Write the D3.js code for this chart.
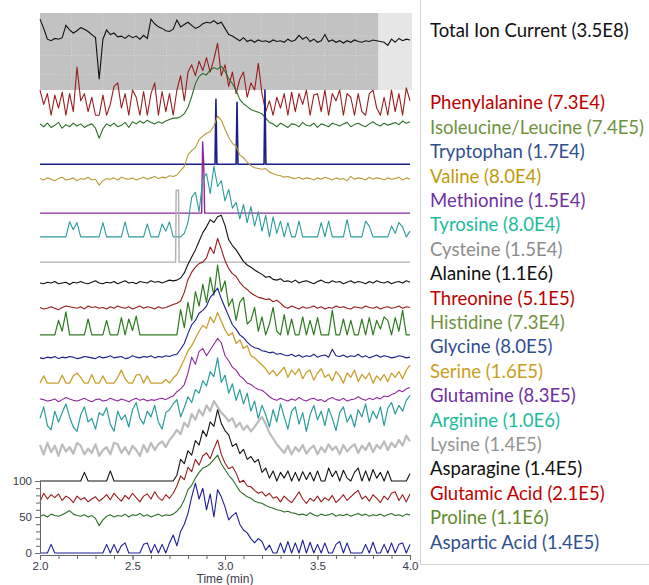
<!DOCTYPE html>
<html><head><meta charset="utf-8">
<script src="https://cdn.jsdelivr.net/npm/d3@7"></script>
<style>body{margin:0;background:#fff;} svg{display:block;}</style>
</head><body><svg id="c" width="649" height="585"></svg>
<script>
// ---------------- DATA ----------------
const timeDomain = [2.0, 4.0];
const xTicks = [2.0, 2.5, 3.0, 3.5, 4.0];
const yTicks = [0, 50, 100];
const ticWindowEnd = 3.83;

const ticLabel = "Total Ion Current (3.5E8)";
const ticValues = [92,80,66,64,67,66,68,84,78,74, 77,81,79,76,72,68,14,66,78,72, 74,69,70,67,71,68,70,66,71,67,
  92,86,82,80,77,76,79,91,82,85, 88,84,80,82,86,88,87,90,86,88, 80,72,70,67,64,68,63,65,62,65,
  63,64,62,65,63,64,62,66,63,65, 71,66,69,63,66,62,64,72,63,65, 62,64,61,64,62,65,63,62,64,63,
  65,64,63,62,58,66,62,67,64,66, 65];

const names = ["Phenylalanine","Isoleucine/Leucine","Tryptophan","Valine","Methionine","Tyrosine","Cysteine",
  "Alanine","Threonine","Histidine","Glycine","Serine","Glutamine","Arginine","Lysine","Asparagine",
  "Glutamic Acid","Proline","Aspartic Acid"];
const maxIntensity = ["7.3E4","7.4E5","1.7E4","8.0E4","1.5E4","8.0E4","1.5E4","1.1E6","5.1E5","7.3E4",
  "8.0E5","1.6E5","8.3E5","1.0E6","1.4E5","1.4E5","2.1E5","1.1E6","1.4E5"];
// stack offsets of each trace (relative intensity units)
const offsets = [608,594,540,519,472,439,404,375,340,303,271,236,212,167,135,100,67,48,0];

const phenylalanine = [35,15,30,0,28,10,32,0,30,5, 67,20,30,5,25,0,0,28,0,15, 40,45,10,30,0,35,25,0,33,0,
  30,45,0,33,5,30,0,35,55,20, 60,70,55,75,62,80,60,78,100,55, 70,40,60,30,50,60,25,45,35,72,
  30,5,20,0,25,10,30,0,32,5, 30,15,35,0,28,30,5,35,0,30, 20,35,0,30,25,0,30,5,0,30,
  35,10,0,25,0,35,5,30,0,38, 20];
const isoleucine = [2,-2,3,-3,0,4,-4,1,-2,3, -1,2,-3,0,2,-4,-18,-5,2,-1, 3,-2,0,4,-3,5,2,6,3,7, 4,2,5,3,6,8,10,
  10,12,16,25,40,58,68,72,70,77, 80,78,82,75,65,58,48,36,30,26, 22,20,18,16,10,4,
  2,-2,3,0,-3,2,1,-2,4,0, -1,3,-3,2,0,-2,3,1,-1,2, 4,-2,1,3,0,-2,2,5,1,-1, 3,0,2,4,1,6,3,5];
const tryptophan = [[2.0,0],[2.946,0],[2.951,90],[2.956,0],[3.060,0],[3.065,86],[3.070,0],[3.211,0],[3.216,103],[3.221,0],[4.0,0]];
const valine = [1,-1,2,0,-2,1,3,-1,0,2,-2,1,0,3,-1,0, -8,
  -2,1,0,2,-1,3,1,0,2,-1,1,3,0,2,4,1,3,2,5,4,
  6,12,18,34,40,44,55,60,64,66, 74,88,82,70,58,50,46,34,30,24, 19,16,15,14,15,10,8,6,5,3,
  4,2,1,3,0,2,1,-1,2,0, 3,1,-1,2,0,1,-2,4,0,2, 1,-1,3,0,2,1,-1,2,0,1, 3,-1,2,0];
const methionine = [[2.0,0],[2.874,0],[2.879,99],[2.885,70],[2.890,0],[4.0,0]];
const tyrosine = [0,0,0,0,0,0,0,0,21,10, 20,0,0,0,0,0,0,20,0,0, 0,0,0,21,0,0,0,0,0,18, 0,0,0,18,8,21,0,0,0,5,
  20,55,62,35,80,88,60,98,70,78, 50,66,40,48,25,45,20,42,15,35, 8,30,0,28,5,22,0,20,0,0,
  22,0,0,0,0,0,20,0,22,0, 0,0,0,24,0,0,0,0,22,15, 0,0,0,0,0,15,5,20,14,0, 8];
const cysteine = [[2.0,0],[2.733,0],[2.736,100],[2.749,100],[2.752,0],[4.0,0]];
const alanine = [0,-1,1,0,2,-1,0,1,-2,1, 0,2,0,-1,1,3,0,-1,1,0, 2,-1,1,3,0,1,-1,2,1,0, 3,1,2,0,2,4,3,
  4,7,14,26,36,46,58,70,78,88, 84,92,94,80,60,52,46,38,30,25, 22,18,15,12,8,9,5,4,
  6,2,3,1,4,0,2,3,1,-1, 2,4,1,0,3,1,2,-1,1,3, 0,2,1,-1,2,0,3,1,0,2, -1,1,2,0,3,1];
const threonine = [1,-1,0,2,0,-2,1,3,2,1, 0,2,-1,3,1,2,0,1,-1,2, 0,3,1,0,2,-1,1,3,0,2, 1,-1,2,0,1,3,5,
  7,10,22,40,50,57,62,64,70,85, 76,97,82,66,55,48,44,36,30,26, 21,18,15,14,12,13,9,11,7,
  2,0,3,1,-1,2,0,1,3,0, 2,-1,1,0,3,1,2,0,-1,2, 1,0,3,1,0,2,-1,1,2,0, 1,3,0,2,1];
const histidine = [0,0,0,0,0,20,5,32,0,0, 0,0,0,22,0,0,0,0,20,0, 0,0,24,0,22,6,26,0,0,0, 0,0,0,0,0,0,0,0,35,10,
  45,20,60,40,70,45,80,55,97,60, 75,40,50,20,45,52,15,20,38,5, 25,0,15,38,5,0,28,0,22,0,
  0,25,0,20,0,24,0,0,0,34, 0,0,22,0,20,0,0,22,0,24, 0,20,8,25,20,0,24,5,34,0, 0];
const glycine = [0,-1,1,0,2,-1,1,0,2,1, -1,0,2,1,0,-1,2,0,1,3, 0,1,2,-1,0,3,1,0,2,1, 3,0,2,1,3,2,4,
  5,12,20,34,46,52,62,66,72,84, 90,97,82,70,58,46,40,32,28,22, 17,14,13,10,9,7,8,5,6,4,
  3,5,2,4,1,3,2,5,1,3, 4,1,12,3,2,4,1,3,2,5, 1,3,0,2,4,1,3,2,0,1, 3,2,0,1];
const serine = [0,10,0,0,0,0,11,0,0,10, 14,8,0,0,12,0,0,10,0,0, 0,8,18,6,0,0,11,12,0,10, 0,0,0,0,5,0,7,12,22,33,
  45,52,62,72,80,76,92,84,98,86, 74,66,70,55,60,48,52,38,35,30, 25,20,12,18,10,16,22,8,18,12,
  20,6,15,18,4,14,20,8,12,3, 16,10,0,14,8,18,2,12,6,14, 0,10,4,12,2,14,8,16,6,18, 25];
const glutamine = [2,1,-1,0,2,-2,1,4,2,0, -1,1,3,0,-2,1,2,-1,0,3, 1,-1,2,0,-2,1,3,0,2,-1, 1,0,2,3,1,4,6,
  12,16,22,38,60,50,68,72,62,70, 78,86,80,62,55,46,42,34,30,24, 22,18,15,14,10,5,
  2,0,3,1,-1,2,0,4,1,-1, 2,3,0,1,-2,2,4,1,0,3, -1,1,2,5,2,0,3,1,4,2, 6,5,8,10,14,12,16,18];
const arginine = [20,36,10,4,30,15,28,40,22,8, 2,25,36,15,20,5,28,24,35,12, 2,30,18,25,8,32,42,20,12,30,
  22,38,15,5,28,32,40,46,22,35, 50,42,60,55,72,65,85,78,104,70, 80,55,68,45,60,40,55,30,44,20,
  38,25,8,32,15,40,22,5,30,36, 12,28,2,25,38,18,30,10,34,20, 3,28,36,15,25,8,32,22,40,14,
  30,20,36,10,34,42,26,38,30,45, 52];
const lysine = [15,2,18,5,14,0,16,6,12,3, 18,14,2,10,4,16,0,8,12,2, 18,16,4,12,2,14,8,0,15,5,
  18,8,16,20,12,22,28,36,30,46, 40,58,50,64,56,70,62,76,68,60, 55,48,52,40,46,36,42,34,40,48,
  54,44,32,24,16,10,4,14,2,12, 6,15,3,10,14,2,12,5,16,8, 13,2,15,6,12,16,4,14,8,18,
  5,15,10,20,8,18,12,22,14,28, 20];
const asparagine = [0,0,0,0,0,0,0,0,0,0, 0,0,12,0,0,0,0,0,0,14, 0,0,0,0,0,0,0,0,0,0, 0,0,0,0,0,0,0,8,30,24,
  42,36,56,50,70,62,82,76,99,80, 70,64,48,52,38,44,30,34,26,30, 12,18,4,14,0,12,4,14,0,12,
  0,13,2,12,0,14,0,0,18,6, 14,0,15,4,0,12,18,0,14,0, 16,4,12,0,14,0,0,0,0,0, 10];
const glutamicAcid = [4,16,8,14,10,15,6,12,9,3, 12,7,10,4,8,11,5,9,14,7, 16,10,5,13,8,16,10,4,12,15,
  8,18,10,6,14,9,16,26,40,35, 52,46,63,55,68,72,64,78,90,70, 58,50,53,44,31,34,26,25,20,16,
  18,12,16,9,11,4,12,7,3,10, 18,8,2,9,5,12,4,10,6,13, 3,8,14,6,11,16,20,8,12,5,
  14,9,3,12,7,16,18,6,14,4, 15];
const proline = [3,5,2,6,4,3,5,8,11,6, 4,3,5,2,4,0,-10,-2,3,5, 2,4,3,6,2,5,4,7,3,5, 2,4,6,3,5,4,6,
  10,16,26,40,46,56,64,70,72,76, 82,88,76,68,60,54,46,38,34,30, 28,24,22,21,18,16,14,12,11,9, 10,8,
  7,5,6,4,8,5,3,6,4,5, 7,3,5,4,6,3,5,7,4,6, 3,5,4,6,3,5,7,4,5,3, 6,5];
const asparticAcid = [0,0,0,12,0,0,0,0,0,0, 0,0,0,0,0,0,0,0,12,0, 12,0,10,14,0,0,0,0,12,14, 0,12,0,12,0,14,25,10,30,40,
  55,78,97,75,90,60,82,50,88,78, 64,46,52,56,40,32,28,20,14,20, 16,4,11,0,0,14,0,16,0,14,
  0,18,0,15,0,12,0,14,0,0, 12,16,0,14,0,0,0,0,12,0, 15,0,0,12,0,14,0,12,14,0, 12];

const traceData = [phenylalanine, isoleucine, tryptophan, valine, methionine, tyrosine, cysteine,
  alanine, threonine, histidine, glycine, serine, glutamine, arginine, lysine, asparagine,
  glutamicAcid, proline, asparticAcid];

// ---------------- STYLE ----------------
const lineColors = ["#9a1c1c","#2f6f2a","#1c1f86","#b99a3a","#8c2a9c","#2a9c9a","#b0b0b0",
  "#111111","#9a1c1c","#2f7a22","#1c1f86","#c9a032","#8c2a9c","#2a9c9a","#bcbcbc","#111111",
  "#9a1c1c","#2f6f2a","#1c1f96"];
const labelColors = ["#c00000","#6f9140","#2f4f8f","#c19a0a","#7030a0","#1abc9c","#8c8c8c",
  "#111111","#c00000","#6f9140","#2f4f8f","#c8a020","#7030a0","#1abc9c","#959595","#111111",
  "#c00000","#5f8a2a","#2f4f8f"];
const lineWidths = [1.1,1.1,1.6,1.1,1.4,1.1,1.4,1.1,1.1,1.2,1.1,1.3,1.1,1.2,2.2,1.1,1.1,1.1,1.1];

const svg = d3.select("#c");
const x = d3.scaleLinear().domain(timeDomain).range([40, 410]);
const y = d3.scaleLinear().domain([0, 100]).range([553, 481]);
const ticY = d3.scaleLinear().domain([0, 100]).range([90, 13]);

// TIC panel background
svg.append("rect").attr("x", x(timeDomain[0])).attr("y", ticY(100))
  .attr("width", x(ticWindowEnd) - x(timeDomain[0])).attr("height", ticY(0) - ticY(100))
  .attr("fill", "#c2c2c2");
svg.append("rect").attr("x", x(ticWindowEnd)).attr("y", ticY(100))
  .attr("width", x(timeDomain[1]) + 2 - x(ticWindowEnd)).attr("height", ticY(0) - ticY(100))
  .attr("fill", "#e6e6e6");
const grid = svg.append("g").attr("stroke", "#ffffff").attr("stroke-opacity", 0.45)
  .attr("stroke-dasharray", "1,2").attr("stroke-width", 0.8);
[20, 45, 70].forEach(v => grid.append("line").attr("x1", x(2)).attr("x2", x(ticWindowEnd))
  .attr("y1", ticY(v)).attr("y2", ticY(v)));
d3.range(2.17, ticWindowEnd, 0.171).forEach(t => grid.append("line").attr("x1", x(t)).attr("x2", x(t))
  .attr("y1", ticY(100)).attr("y2", ticY(0)));

// TIC line
const ticIdx = d3.scaleLinear().domain([0, ticValues.length - 1]).range(timeDomain);
svg.append("path").datum(ticValues)
  .attr("d", d3.line().x((d, i) => x(ticIdx(i))).y(d => ticY(d)))
  .attr("fill", "none").attr("stroke", "#111").attr("stroke-width", 1.1);

// traces
traceData.forEach((data, k) => {
  let line;
  if (Array.isArray(data[0])) {
    line = d3.line().x(d => x(d[0])).y(d => y(offsets[k] + d[1]));
  } else {
    const idx = d3.scaleLinear().domain([0, data.length - 1]).range(timeDomain);
    line = d3.line().x((d, i) => x(idx(i))).y(d => y(offsets[k] + d));
  }
  svg.append("path").datum(data).attr("d", line)
    .attr("fill", "none").attr("stroke", lineColors[k]).attr("stroke-width", lineWidths[k])
    .attr("stroke-linejoin", "round");
});

// axes
const axisFont = "'Liberation Sans', Arial, sans-serif";
const yAxisMinor = svg.append("g").attr("transform", `translate(${x(2)},0)`)
  .call(d3.axisLeft(y).tickValues(d3.range(0, 101, 10)).tickSize(4).tickFormat("").tickSizeOuter(0));
const yAxis = svg.append("g").attr("transform", `translate(${x(2)},0)`)
  .call(d3.axisLeft(y).tickValues(yTicks).tickSize(5).tickPadding(3).tickSizeOuter(0));
const xAxisMinor = svg.append("g").attr("transform", `translate(0,555)`)
  .call(d3.axisBottom(x).tickValues(d3.range(2, 4.001, 0.1)).tickSize(4).tickFormat("").tickSizeOuter(0));
const xAxis = svg.append("g").attr("transform", `translate(0,555)`)
  .call(d3.axisBottom(x).tickValues(xTicks).tickSize(5).tickPadding(2).tickFormat(d3.format(".1f")).tickSizeOuter(0));
[yAxisMinor, yAxis, xAxisMinor, xAxis].forEach(g => {
  g.selectAll("path,line").attr("stroke", "#666");
  g.selectAll("text").attr("fill", "#3a3a4a").style("font-family", axisFont).style("font-size", "11.5px");
});
svg.append("text").attr("x", (x(2) + x(4)) / 2).attr("y", 583).attr("text-anchor", "middle")
  .attr("fill", "#3a3a4a").style("font-family", axisFont).style("font-size", "12px").text("Time (min)");

// legend panel
svg.append("line").attr("x1", 420.5).attr("x2", 420.5).attr("y1", 0).attr("y2", 564).attr("stroke", "#d4d4d4");
svg.append("line").attr("x1", 420).attr("x2", 649).attr("y1", 564.5).attr("y2", 564.5).attr("stroke", "#d4d4d4");
const legendFont = "Lato, 'Open Sans', sans-serif";
const legend = svg.append("g").style("font-family", legendFont).style("font-size", "16px");
const ticText = legend.append("text").attr("x", 430).attr("y", 31).attr("dy", "0.35em").attr("fill", "#111").text(ticLabel);
const labelTexts = names.map((n, k) => legend.append("text").attr("x", 430).attr("y", 103 + k * 24.39).attr("dy", "0.35em")
  .attr("fill", labelColors[k]).text(`${n} (${maxIntensity[k]})`));
// fit the font size to the reference text widths (TIC, Phenylalanine, Isoleucine/Leucine)
const measured = ticText.node().getComputedTextLength() + labelTexts[0].node().getComputedTextLength()
  + labelTexts[1].node().getComputedTextLength();
const fitSize = 16 * (198 + 177 + 213) / measured;
legend.style("font-size", fitSize.toFixed(2) + "px");
</script></body></html>
